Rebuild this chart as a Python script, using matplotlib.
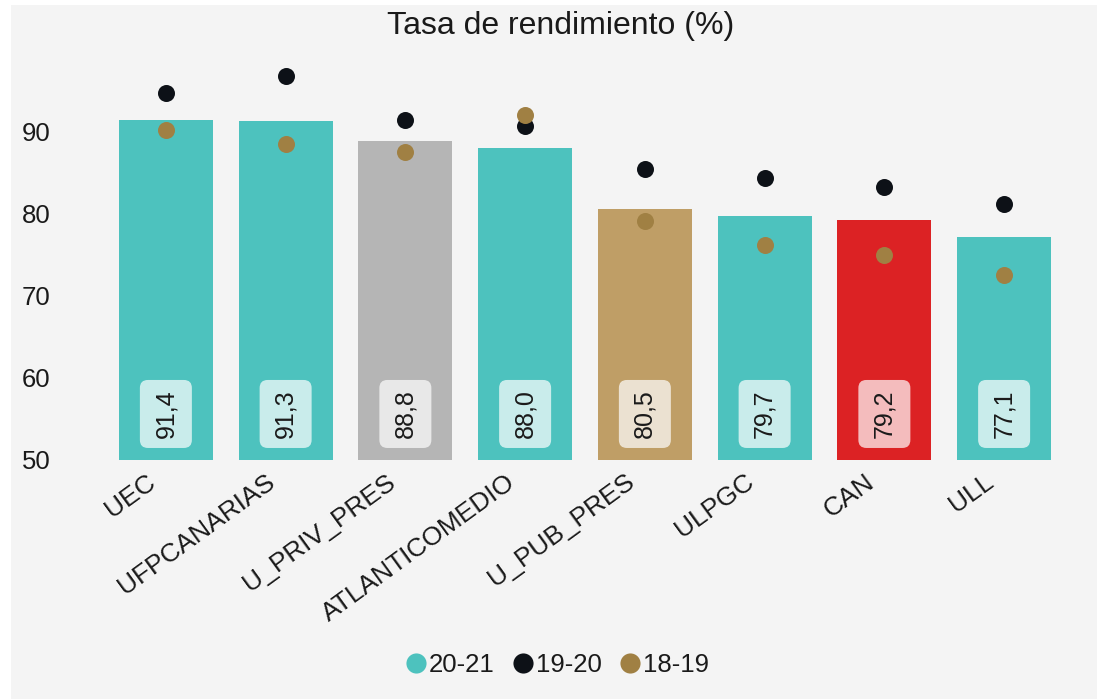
import matplotlib
matplotlib.use("Agg")
import matplotlib.pyplot as plt
from matplotlib.patches import Rectangle, FancyBboxPatch
from matplotlib.lines import Line2D

plt.rcParams['font.family'] = ['Liberation Sans', 'DejaVu Sans']

categories = ["UEC", "UFPCANARIAS", "U_PRIV_PRES", "ATLANTICOMEDIO",
              "U_PUB_PRES", "ULPGC", "CAN", "ULL"]
values_2021 = [91.4, 91.3, 88.8, 88.0, 80.5, 79.7, 79.2, 77.1]
values_1920 = [94.7, 96.7, 91.4, 90.6, 85.4, 84.3, 83.2, 81.1]
values_1819 = [90.2, 88.4, 87.5, 92.0, 79.1, 76.2, 75.0, 72.5]
bar_colors = ["#4DC2BE", "#4DC2BE", "#B5B5B5", "#4DC2BE",
              "#BF9E66", "#4DC2BE", "#DC2224", "#4DC2BE"]
series_names = ["20-21", "19-20", "18-19"]
series_colors = ["#4DC2BE", "#0D1117", "#A08043"]

W, H = 1097, 699
fig = plt.figure(figsize=(W / 100, H / 100), dpi=100, facecolor="white")
fig.patches.append(Rectangle((11 / W, 0), 1 - 11 / W, 1 - 5 / H,
                             transform=fig.transFigure, facecolor="#F4F4F4",
                             edgecolor="none", zorder=-5))

ax_l, ax_r, ax_b, ax_t = 106, 1064, 460, 49
ax = fig.add_axes([ax_l / W, (H - ax_b) / H, (ax_r - ax_l) / W, (ax_b - ax_t) / H])
ax.set_facecolor("none")
ax.set_zorder(2)
x = list(range(len(categories)))
ymin, ymax = 50, 100
ax.bar(x, [v - ymin for v in values_2021], bottom=ymin, width=0.785,
       color=bar_colors, zorder=2)
ax.scatter(x, values_1920, s=150, color=series_colors[1], zorder=3, linewidths=0)
ax.scatter(x, values_1819, s=150, color=series_colors[2], zorder=4, linewidths=0)

# label boxes sized in pixels, converted to data units
px_x = len(categories) / (ax_r - ax_l)
px_y = (ymax - ymin) / (ax_b - ax_t)
box_w, box_h, box_r = 52 * px_x, 68 * px_y, 8 * px_x
label_y = 55.6
for xi, v in zip(x, values_2021):
    ax.add_patch(FancyBboxPatch((xi - box_w / 2, label_y - box_h / 2), box_w, box_h,
                                boxstyle=f"round,pad=0,rounding_size={box_r}",
                                mutation_aspect=px_y / px_x,
                                facecolor="white", alpha=0.7, edgecolor="none", zorder=5))
    ax.text(xi, label_y, f"{v:.1f}".replace(".", ","), rotation=90,
            ha="center", va="center", fontsize=18, color="#1A1A1A", zorder=6)

ax.set_xlim(-0.5, len(categories) - 0.5)
ax.set_ylim(ymin, ymax)
ax.set_yticks([50, 60, 70, 80, 90])
label_shift = 20 * px_x
ax.set_xticks([xi - label_shift for xi in x])
ax.set_xticklabels(categories, rotation=36, ha="right", va="top",
                   rotation_mode="anchor", fontsize=19, color="#1A1A1A")
ax.tick_params(axis="y", length=0, pad=40, labelsize=18.5, labelcolor="#1A1A1A")
ax.tick_params(axis="x", length=0, pad=7)
for s in ax.spines.values():
    s.set_visible(False)

fig.text(561 / W, 1 - 26 / H, "Tasa de rendimiento (%)", ha="center", va="center",
         fontsize=23, color="#1A1A1A")

handles = [Line2D([], [], marker="o", linestyle="none", markersize=14.5,
                  markerfacecolor=c, markeredgecolor="none") for c in series_colors]
fig.legend(handles, series_names, loc="center", bbox_to_anchor=(556 / W, 1 - 665 / H),
           ncol=3, frameon=False, fontsize=18.5, handletextpad=0.0,
           columnspacing=0.6, handlelength=1.0, labelcolor="#1A1A1A")

fig.savefig("out.png", dpi=100, facecolor="white")
